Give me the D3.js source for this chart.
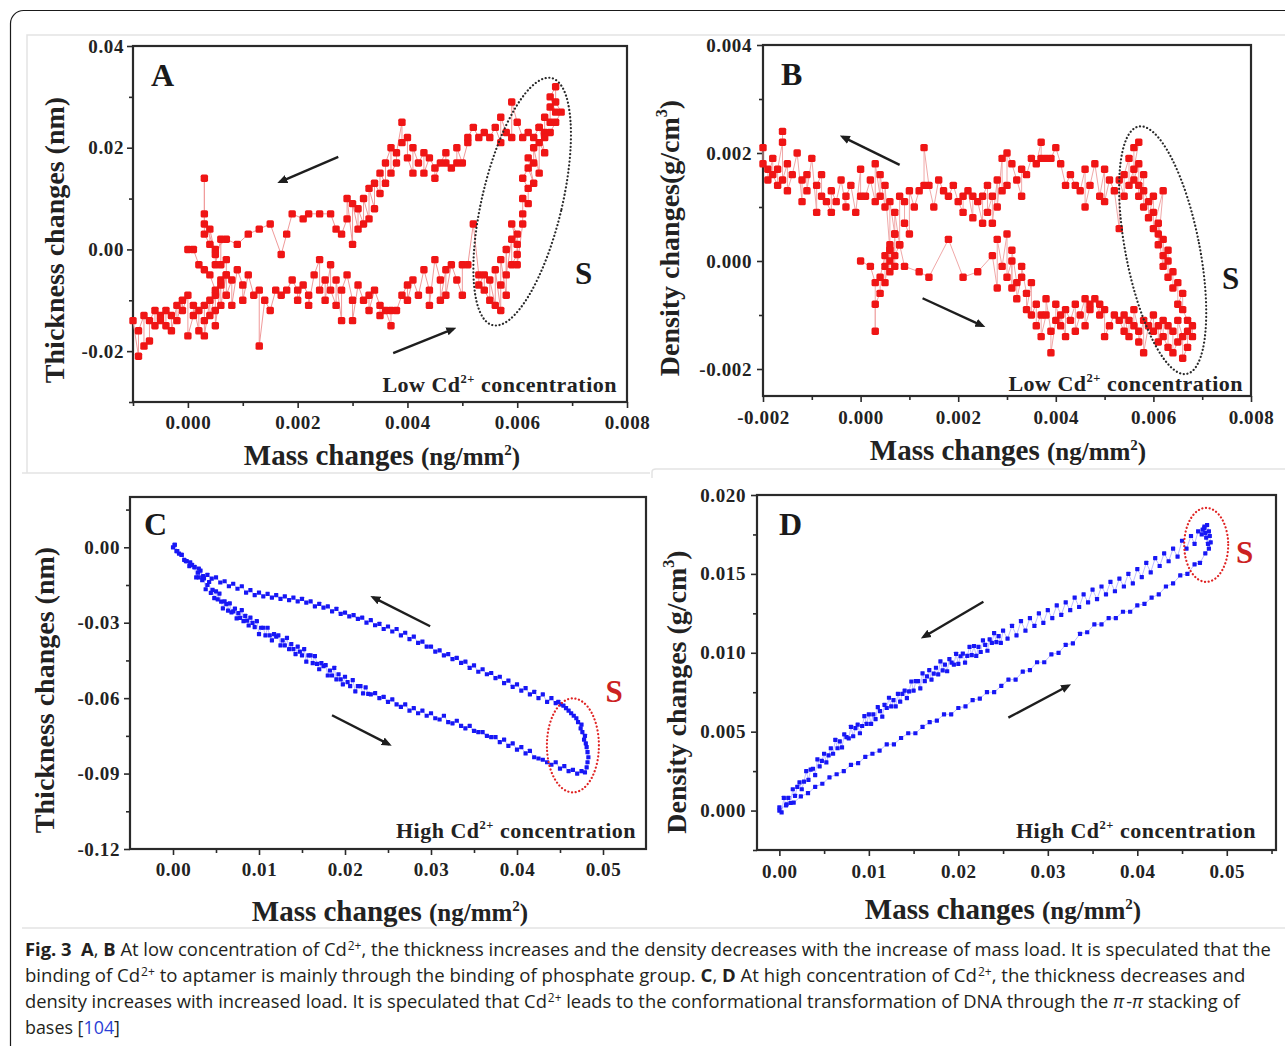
<!DOCTYPE html>
<html>
<head>
<meta charset="utf-8">
<script src="https://cdn.jsdelivr.net/npm/d3@7"></script>
<style>
  body { margin: 0; background: #fff; }
  svg { display: block; }
</style>
</head>
<body>
<script>
// ---------------- data ----------------
// panel A : mass in 1e-4 ng/mm2, thickness in 1e-3 nm
const loadA = [[-10,-14],[-9,-21],[-9,-16],[-8,-13],[-8,-19],[-7,-18],[-7,-14],[-6,-12],[-6,-15],[-5,-14],[-5,-13],[-4,-15],[-4,-12],[-3,-13],[-3,-16],[-2,-11],[-2,-14],[-1,-10],[-1,-12],[0,-9],[0,-17],[1,-13],[1,-11],[2,-16],[2,-12],[3,-11],[3,-14],[3,-17],[4,-10],[4,-13],[5,-9],[5,-12],[5,-15],[6,-7],[6,-11],[7,-5],[7,-9],[8,-6],[8,-11],[9,-4],[10,-7],[10,-10],[11,-5],[12,-9],[13,-8],[13,-19],[14,-10],[15,-12],[16,-8],[17,-9],[18,-8],[19,-6],[20,-8],[20,-10],[21,-7],[22,-9],[22,-11],[23,-5],[24,-2],[24,-8],[25,-6],[25,-10],[26,-3],[26,-8],[27,-11],[27,-6],[28,-14],[28,-8],[29,-5],[30,-10],[30,-14],[31,-7],[32,-10],[33,-9],[33,-12],[34,-8],[35,-11],[35,-13],[36,-12],[37,-15],[37,-12],[38,-12],[39,-9],[40,-7],[40,-10],[41,-6],[42,-9],[43,-4],[44,-8],[44,-11],[45,-2],[46,-6],[46,-10],[47,-4],[47,-9],[48,-3],[49,-6],[50,-9],[50,-3],[51,-3],[52,5],[53,-5],[53,-7],[54,-5],[54,-8],[55,-10],[55,-6],[56,-11],[56,-4],[57,-12],[57,-7],[57,-2],[58,-9],[58,0],[58,-5],[59,2],[59,-3],[60,-1],[60,3],[59,5],[60,1],[60,-3],[61,5],[61,7],[61,10],[62,9],[62,12],[61,14],[62,16],[63,13],[62,18],[63,17],[63,20],[64,15],[64,21],[65,19],[64,24],[65,23],[65,26],[66,25],[66,28],[67,27],[66,30],[67,32],[67,29],[68,27],[67,25],[66,23]];
const unloadA = [[65,22],[64,24],[63,22],[62,23],[61,22],[60,25],[59,29],[59,22],[58,23],[57,26],[57,21],[56,24],[55,22],[54,23],[53,22],[52,24],[51,22],[51,21],[50,17],[49,20],[49,17],[48,16],[47,17],[47,19],[46,17],[45,14],[45,16],[44,18],[43,15],[43,19],[42,17],[41,20],[41,15],[40,18],[40,22],[39,21],[39,25],[38,19],[38,17],[37,15],[37,20],[36,17],[36,13],[35,15],[35,11],[34,13],[34,8],[33,12],[33,6],[32,10],[32,5],[31,8],[31,4],[30,9],[30,1],[29,10],[29,6],[28,3],[27,4],[26,7],[24,7],[22,7],[21,6],[19,7],[18,3],[17,-1],[15,5],[13,4],[11,3],[9,1],[7,2],[5,0],[3,5],[3,14],[3,7],[3,3],[4,1],[4,4],[5,-1],[5,-3],[6,2],[6,-3],[7,-2],[7,-5],[6,-6],[5,-8],[4,-5],[3,-4],[2,-3],[1,0],[0,0]];

// panel B : mass in 1e-4 ng/mm2, density in 1e-4 g/cm3
const loadB = [[0,0],[2,-1],[3,-4],[3,-13],[3,-8],[4,-6],[4,-3],[5,1],[5,-1],[5,-4],[6,2],[6,0],[6,3],[6,-2],[7,-1],[7,5],[7,1],[8,3],[9,-1],[12,-2],[14,-3],[18,4],[21,-3],[24,-2],[27,1],[28,-5],[28,4],[29,-1],[30,5],[30,-3],[31,0],[31,-5],[31,2],[32,-4],[32,-7],[33,-3],[33,-1],[34,-6],[34,-9],[35,-4],[35,-10],[36,-8],[36,-12],[37,-10],[37,-14],[38,-10],[38,-7],[39,-13],[39,-17],[40,-11],[40,-8],[41,-12],[41,-10],[42,-14],[42,-9],[43,-11],[44,-8],[44,-13],[45,-10],[46,-7],[46,-12],[47,-9],[47,-8],[48,-7],[49,-10],[49,-8],[50,-9],[50,-14],[51,-12],[52,-10],[53,-11],[54,-13],[54,-10],[55,-14],[55,-11],[56,-12],[56,-9],[57,-13],[57,-15],[58,-11],[58,-17],[59,-12],[60,-10],[60,-13],[61,-12],[61,-15],[62,-11],[62,-14],[63,-16],[63,-12],[64,-13],[64,-17],[65,-15],[65,-11],[66,-14],[66,-18],[67,-16],[67,-13],[68,-14],[68,-12]];
const unloadB = [[67,-11],[66,-9],[66,-6],[65,-8],[65,-4],[64,-5],[64,-2],[63,-3],[63,0],[63,2],[62,1],[62,4],[62,-1],[61,5],[61,7],[61,3],[62,13],[60,6],[60,9],[60,12],[59,8],[59,11],[58,13],[58,10],[58,16],[57,14],[57,12],[57,18],[56,15],[56,21],[57,22],[56,17],[55,14],[55,19],[54,16],[54,12],[53,15],[53,6],[52,13],[51,15],[50,11],[50,17],[49,12],[48,18],[47,14],[46,10],[46,17],[45,13],[44,14],[43,16],[42,14],[41,18],[40,21],[39,19],[38,19],[37,19],[37,22],[36,18],[35,19],[34,16],[33,17],[33,12],[32,15],[31,18],[30,20],[30,14],[29,13],[29,19],[28,10],[28,15],[27,7],[27,12],[26,9],[26,14],[25,12],[25,7],[24,11],[23,12],[23,8],[22,13],[21,12],[21,9],[20,11],[19,14],[18,12],[17,13],[16,15],[15,10],[14,14],[13,21],[13,14],[12,13],[11,10],[10,13],[10,5],[9,7],[9,11],[8,12],[8,3],[7,9],[7,5],[6,11],[6,2],[5,14],[5,10],[4,16],[4,12],[3,18],[3,11],[2,15],[1,12],[0,12],[0,17],[-1,9],[-2,14],[-3,12],[-3,10],[-4,15],[-5,11],[-6,13],[-6,9],[-7,11],[-8,12],[-8,16],[-9,14],[-9,9],[-10,19],[-11,13],[-11,16],[-12,15],[-12,11],[-13,20],[-14,16],[-15,13],[-15,18],[-16,15],[-16,24],[-16,22],[-17,17],[-17,14],[-18,16],[-18,19],[-19,15],[-19,17],[-20,18],[-20,21]];

// panel C : mass in 1e-3 ng/mm2, thickness in 1e-3 nm
const loadC = [[0,0],[0.2,1],[0.4,-1.5],[0.7,-2.5],[1,-3],[1.3,-5],[1.6,-5.5],[1.9,-7.5],[2.2,-7],[2.5,-7.8],[2.7,-12],[2.9,-10.1],[3,-12],[3.2,-9.3],[3.4,-13.1],[3.6,-12.4],[3.8,-16.7],[4,-15],[4.2,-13.8],[4.4,-18.1],[4.6,-16.9],[4.8,-20.2],[5,-17.5],[5.2,-20.7],[5.4,-18.4],[5.6,-21.6],[5.8,-24.3],[6,-21.5],[6.2,-22.6],[6.4,-25.2],[6.6,-22.3],[6.8,-25.9],[7,-25.5],[7.2,-24.4],[7.4,-28.3],[7.6,-26.2],[7.8,-28.1],[8,-25],[8.2,-29.4],[8.4,-27.3],[8.6,-29.2],[8.8,-31.1],[9,-28],[9.25,-30.1],[9.5,-31.75],[9.75,-29.4],[10,-34.5],[10.25,-32],[10.5,-32],[10.75,-35],[11,-32],[11.25,-35],[11.5,-37],[11.75,-34.5],[12,-35.5],[12.25,-35],[12.5,-39],[12.75,-37],[13,-39],[13.25,-36],[13.5,-40.5],[13.75,-38.5],[14,-40.5],[14.25,-42.5],[14.5,-39.5],[14.75,-41.5],[15,-43],[15.25,-40.5],[15.5,-45.5],[15.75,-43],[16,-43],[16.25,-46.1],[16.5,-43.25],[16.75,-46.4],[17,-48.5],[17.25,-46.1],[17.5,-47.25],[17.75,-46.9],[18,-51],[18.25,-49],[18.5,-51],[18.75,-48],[19,-52.5],[19.25,-50.5],[19.5,-52.5],[19.75,-54.5],[20,-51.5],[20.3,-53.6],[20.6,-55.2],[20.9,-52.8],[21.2,-57.3],[21.5,-55.25],[21.8,-55.2],[22.1,-58.1],[22.4,-55.7],[22.7,-58.3],[23,-58.5],[23.5,-58],[24,-60],[24.5,-59.5],[25,-61.5],[25.5,-60.5],[26,-62.5],[26.5,-63.5],[27,-62.5],[27.5,-65],[28,-64],[28.5,-66],[29,-65],[29.5,-67],[30,-66],[30.5,-68],[31,-68.5],[31.5,-67],[32,-69.5],[32.5,-70],[33,-69],[33.5,-71],[34,-72],[34.5,-71],[35,-73],[35.5,-73.5],[36,-73.5],[36.5,-75],[37,-75.5],[37.5,-75.5],[38,-77.5],[38.5,-76.5],[39,-79],[39.5,-78],[40,-80.5],[40.5,-79.5],[41,-82],[41.5,-81],[42,-83.5],[42.5,-84],[43,-84.5],[43.5,-85.5],[44,-86.5],[44.5,-85.5],[45,-88],[45.5,-87],[46,-89],[46.5,-88.5],[47,-90],[47.5,-89]];
const turnC = [[47.9,-89.5],[48.1,-87.5],[48.2,-85.5],[48.3,-83.5],[48.2,-81.5],[48.1,-79.5],[48,-78],[47.8,-76.5],[47.9,-75],[47.6,-73.5],[47.4,-72],[47.5,-70.5],[47.1,-69.5],[46.9,-68],[46.6,-67],[46.3,-66],[46,-65],[45.7,-64],[45.4,-63],[45.1,-62.5],[44.8,-61.5],[44.5,-62]];
const unloadC = [[44,-60],[43.5,-61.5],[43,-58.5],[42.5,-60],[42,-57.5],[41.5,-58.5],[41,-56],[40.5,-57],[40,-54.5],[39.5,-55.5],[39,-53],[38.5,-54],[38,-51.5],[37.5,-52],[37,-50],[36.5,-50.5],[36,-48.5],[35.5,-49.5],[35,-47],[34.5,-48],[34,-45.5],[33.5,-46],[33,-44],[32.5,-44.5],[32,-42.5],[31.5,-43],[31,-41],[30.5,-41.5],[30,-39.5],[29.5,-39.5],[29,-37.5],[28.5,-38],[28,-35.5],[27.5,-36.5],[27,-34],[26.5,-35],[26,-32.5],[25.5,-33.5],[25,-31.5],[24.5,-32.5],[24,-30.5],[23.5,-31],[23,-29],[22.5,-30],[22,-28],[21.5,-28.5],[21,-27],[20.5,-27.5],[20,-26],[19.5,-26.5],[19,-24.5],[18.5,-25.5],[18,-23.5],[17.5,-24],[17,-22.5],[16.5,-23.5],[16,-21.5],[15.5,-22],[15,-20.5],[14.5,-21.5],[14,-20],[13.5,-21],[13,-19.5],[12.5,-20.5],[12,-19],[11.5,-20],[11,-18.5],[10.5,-19.5],[10,-18],[9.5,-19],[9,-17],[8.5,-18],[8,-15.5],[7.5,-16.5],[7,-14.5],[6.5,-15.5],[6,-13.5],[5.5,-14],[5,-12],[4.5,-12.5],[4,-11],[3.5,-11.5],[3,-8.5],[2.5,-8],[2,-6],[1.5,-5.5],[1,-3],[0.5,-1.5],[0.2,1]];

// panel D : mass in 1e-3 ng/mm2, density in 1e-3 g/cm3
const loadD = [[0,0],[0.8,0.4],[1.6,0.5],[2.4,0.9],[3.2,1.1],[4,1.5],[4.8,1.7],[5.6,2.1],[6.4,2.3],[7.2,2.5],[8,2.9],[8.8,3.0],[9.6,3.4],[10.4,3.6],[11.2,3.8],[12,4.2],[12.8,4.2],[13.6,4.6],[14.4,4.9],[15.2,4.9],[16,5.3],[16.8,5.6],[17.6,5.7],[18.4,6.1],[19.2,6.1],[20,6.5],[20.8,6.6],[21.6,7.0],[22.4,7.1],[23.2,7.5],[24,7.5],[24.8,7.9],[25.6,8.3],[26.4,8.3],[27.2,8.8],[28,8.9],[28.8,9.4],[29.6,9.4],[30.4,9.9],[31.2,10.0],[32,10.5],[32.8,10.6],[33.6,11.2],[34.4,11.3],[35.2,11.8],[36,11.8],[36.8,12.2],[37.6,12.2],[38.4,12.6],[39.2,12.6],[40,13.0],[40.8,13.1],[41.6,13.5],[42.4,13.7],[43.2,14.2],[44,14.4],[44.8,14.9],[45.6,15.0],[46.4,15.6],[47,15.7],[47.6,16.3]];
const turnD = [[48,16.6],[48.2,17],[48.1,17.4],[48,17.7],[47.8,18.1],[47.5,17.9],[47.7,17.3],[47.9,16.9],[47.6,17.6],[47.3,17.8]];
const unloadD = [[47.5,18],[47.2,17.5],[46.8,17.7],[46.4,16.9],[46,17.4],[45.5,16.6],[45,17.1],[44.5,16.1],[44,16.6],[43.5,15.8],[43,16.3],[42.5,15.5],[42,16],[41.5,15.1],[41,15.7],[40.5,14.8],[40,15.3],[39.5,14.4],[39,15],[38.5,14.2],[38,14.7],[37.5,13.9],[37,14.5],[36.5,13.7],[36,14.2],[35.5,13.4],[35,14],[34.5,13.2],[34,13.7],[33.5,12.9],[33,13.5],[32.5,12.7],[32,13.2],[31.5,12.4],[31,13],[30.5,12.2],[30,12.7],[29.5,11.9],[29,12.5],[28.5,11.7],[28,12.2],[27.5,11.4],[27,12],[26.5,11.1],[26,11.7],[25.5,10.9],[25,11.4],[24.75,10.63],[24.5,11.05],[24.25,10.68],[24,11.25],[23.75,10.63],[23.5,10.85],[23.25,10.13],[23,10.5],[22.75,10.78],[22.5,10.05],[22.25,10.38],[22,9.8],[21.75,10.43],[21.5,9.85],[21.25,10.38],[21,9.8],[20.75,9.38],[20.5,9.95],[20.25,9.78],[20,9.3],[19.75,9.93],[19.5,9.25],[19.25,9.38],[19,9.6],[18.75,8.83],[18.5,9.25],[18.25,8.88],[18,9.45],[17.75,8.63],[17.5,9.05],[17.25,8.68],[17,8.3],[16.75,8.9],[16.5,8.5],[16.25,8.2],[16,8.7],[15.75,7.75],[15.5,8.2],[15.25,8.2],[15,7.6],[14.75,8.18],[14.5,7.55],[14.25,7.13],[14,7.6],[13.75,7.4],[13.5,6.9],[13.25,7.4],[13,6.6],[12.75,7.0],[12.5,6.6],[12.25,7.15],[12,6.5],[11.75,6.7],[11.5,5.95],[11.25,6.3],[11,6.55],[10.75,5.8],[10.5,6.1],[10.25,5.5],[10,6.1],[9.75,5.49],[9.5,5.98],[9.25,5.36],[9,4.9],[8.75,5.44],[8.5,5.23],[8.25,4.71],[8,5.3],[7.75,4.58],[7.5,4.65],[7.25,4.83],[7,4.0],[6.75,4.38],[6.5,3.95],[6.25,4.48],[6,3.6],[5.75,3.95],[5.5,3.5],[5.25,3.05],[5,3.6],[4.75,3.15],[4.5,2.8],[4.25,3.25],[4,2.25],[3.75,2.65],[3.5,2.6],[3.25,1.95],[3,2.5],[2.75,1.83],[2.5,1.35],[2.25,1.78],[2,1.5],[1.75,0.93],[1.5,1.35],[1.25,0.48],[1,0.8],[0.75,0.33],[0.5,0.8],[0.25,-0.12],[0,0.2]];

// ticks
const aXTicks = [0, 0.002, 0.004, 0.006, 0.008];
const aXLabels = ['0.000', '0.002', '0.004', '0.006', '0.008'];
const aXMinor = [-0.001, 0.001, 0.003, 0.005, 0.007];
const aYTicks = [0.04, 0.02, 0, -0.02];
const aYLabels = ['0.04', '0.02', '0.00', '-0.02'];
const aYMinor = [0.03, 0.01, -0.01, -0.03];

const bXTicks = [-0.002, 0, 0.002, 0.004, 0.006, 0.008];
const bXLabels = ['-0.002', '0.000', '0.002', '0.004', '0.006', '0.008'];
const bXMinor = [-0.001, 0.001, 0.003, 0.005, 0.007];
const bYTicks = [0.004, 0.002, 0, -0.002];
const bYLabels = ['0.004', '0.002', '0.000', '-0.002'];
const bYMinor = [0.003, 0.001, -0.001];

const cXTicks = [0, 0.01, 0.02, 0.03, 0.04, 0.05];
const cXLabels = ['0.00', '0.01', '0.02', '0.03', '0.04', '0.05'];
const cXMinor = [0.005, 0.015, 0.025, 0.035, 0.045];
const cYTicks = [0, -0.03, -0.06, -0.09, -0.12];
const cYLabels = ['0.00', '-0.03', '-0.06', '-0.09', '-0.12'];
const cYMinor = [0.015, -0.015, -0.045, -0.075, -0.105];

const dXTicks = [0, 0.01, 0.02, 0.03, 0.04, 0.05];
const dXLabels = ['0.00', '0.01', '0.02', '0.03', '0.04', '0.05'];
const dXMinor = [0.005, 0.015, 0.025, 0.035, 0.045, 0.055];
const dYTicks = [0, 0.005, 0.010, 0.015, 0.020];
const dYLabels = ['0.000', '0.005', '0.010', '0.015', '0.020'];
const dYMinor = [-0.0025, 0.0025, 0.0075, 0.0125, 0.0175];

// ---------------- drawing ----------------
const SERIF = '"Liberation Serif", "Times New Roman", serif';
const svg = d3.select('body').append('svg').attr('width', 1285).attr('height', 1046);

const defs = svg.append('defs');
defs.append('marker').attr('id', 'arrow')
  .attr('viewBox', '0 0 10 10').attr('refX', 7).attr('refY', 5)
  .attr('markerWidth', 4.2).attr('markerHeight', 4.2).attr('orient', 'auto')
  .append('path').attr('d', 'M0,0.8 L10,5 L0,9.2 z').attr('fill', '#1e1e1e');

// page frame + faint edges of the scanned panels
svg.append('rect').attr('x', 10.5).attr('y', 10.5).attr('width', 1400).attr('height', 1200)
  .attr('rx', 13).attr('fill', 'none').attr('stroke', '#1a1a1a').attr('stroke-width', 1.2);
const faint = svg.append('g').attr('stroke', '#e3e3e3').attr('stroke-width', 1.5).attr('fill', 'none');
faint.append('path').attr('d', 'M27,473 V35 H1285');
faint.append('path').attr('d', 'M22,473 H650');
faint.append('path').attr('d', 'M652,478 V472 Q652,469 656,469 H1285');
faint.append('path').attr('d', 'M22,928 H1285');

function supText(sel, parts, big, small) {
  // parts: [text, isSup]
  let up = false;
  parts.forEach(([t, sup]) => {
    const ts = sel.append('tspan').text(t);
    if (sup && !up) { ts.attr('dy', -big * 0.42).attr('font-size', small); up = true; }
    else if (!sup && up) { ts.attr('dy', big * 0.42).attr('font-size', big); up = false; }
    else if (sup) ts.attr('font-size', small);
  });
}

function drawPanel(p) {
  const x = d3.scaleLinear().domain(p.xDomain).range([p.left, p.right]);
  const y = d3.scaleLinear().domain(p.yDomain).range([p.bottom, p.top]);
  const g = svg.append('g');

  const styleAxis = s => {
    s.select('.domain').remove();
    s.selectAll('line').attr('stroke', '#2a2a2a').attr('stroke-width', 1.6);
    s.selectAll('text').attr('font-family', SERIF).attr('font-weight', 'bold')
      .attr('font-size', 19).attr('fill', '#222').attr('letter-spacing', 0.6);
  };

  g.append('g').attr('transform', `translate(0,${p.bottom})`)
    .call(d3.axisBottom(x).tickValues(p.xMinor).tickSize(4).tickFormat('')).call(styleAxis);
  g.append('g').attr('transform', `translate(0,${p.bottom})`)
    .call(d3.axisBottom(x).tickValues(p.xTicks).tickSize(6).tickPadding(p.xPad)
      .tickFormat((d, i) => p.xLabels[i])).call(styleAxis);
  g.append('g').attr('transform', `translate(${p.left},0)`)
    .call(d3.axisLeft(y).tickValues(p.yMinor).tickSize(4).tickFormat('')).call(styleAxis);
  g.append('g').attr('transform', `translate(${p.left},0)`)
    .call(d3.axisLeft(y).tickValues(p.yTicks).tickSize(6).tickPadding(p.yPad)
      .tickFormat((d, i) => p.yLabels[i])).call(styleAxis);

  g.append('rect').attr('x', p.left).attr('y', p.top)
    .attr('width', p.right - p.left).attr('height', p.bottom - p.top)
    .attr('fill', 'none').attr('stroke', '#2a2a2a').attr('stroke-width', 2.2);

  // series
  const pts = p.points;
  const px = d => x(d[0] * p.unit[0]);
  const py = d => y(d[1] * p.unit[1]);
  const line = d3.line().x(px).y(py);
  g.append('path').datum(pts).attr('d', line).attr('fill', 'none')
    .attr('stroke', p.lineColor).attr('stroke-width', p.lineWidth).attr('opacity', p.lineOpacity);
  const m = p.marker;
  g.append('g').selectAll('rect').data(pts).join('rect')
    .attr('x', d => px(d) - m / 2).attr('y', d => py(d) - m / 2)
    .attr('width', m).attr('height', m).attr('rx', p.markerRound)
    .attr('fill', p.markerColor);

  // highlighted region
  const e = p.ellipse;
  g.append('ellipse')
    .attr('transform', `translate(${x(e.cx)},${y(e.cy)}) rotate(${e.angle})`)
    .attr('rx', e.rx).attr('ry', e.ry).attr('fill', 'none')
    .attr('stroke', e.color).attr('stroke-width', 2.2)
    .attr('stroke-dasharray', '0.1 3.6').attr('stroke-linecap', 'round');

  // direction arrows
  p.arrows.forEach(a => {
    g.append('line').attr('x1', x(a[0])).attr('y1', y(a[1])).attr('x2', x(a[2])).attr('y2', y(a[3]))
      .attr('stroke', '#1e1e1e').attr('stroke-width', 2.4).attr('marker-end', 'url(#arrow)');
  });

  // labels
  g.append('text').attr('x', p.left + p.letter[0]).attr('y', p.top + p.letter[1])
    .attr('font-family', SERIF).attr('font-weight', 'bold').attr('font-size', 32)
    .attr('fill', '#1a1a1a').text(p.name);
  g.append('text').attr('x', x(p.sPos[0])).attr('y', y(p.sPos[1]))
    .attr('font-family', SERIF).attr('font-weight', 'bold').attr('font-size', 31)
    .attr('text-anchor', 'middle').attr('fill', p.sColor).text('S');

  const note = g.append('text').attr('x', p.right - p.note[0]).attr('y', p.bottom - p.note[1])
    .attr('font-family', SERIF).attr('font-weight', 'bold').attr('font-size', 22)
    .attr('letter-spacing', 0.5).attr('text-anchor', 'end').attr('fill', '#222');
  supText(note, [[p.noteWord + ' Cd', false], ['2+', true], [' concentration', false]], 22, 12.5);

  const xt = g.append('text').attr('x', p.xTitle[0]).attr('y', p.xTitle[1])
    .attr('font-family', SERIF).attr('font-weight', 'bold').attr('font-size', 29)
    .attr('text-anchor', 'middle').attr('fill', '#222');
  xt.append('tspan').text('Mass changes ');
  supText(xt.append('tspan').attr('font-size', 25), [['(ng/mm', false], ['2', true], [')', false]], 25, 15);

  const yt = g.append('text').attr('transform', `translate(${p.yTitle[0]},${p.yTitle[1]}) rotate(-90)`)
    .attr('font-family', SERIF).attr('font-weight', 'bold').attr('font-size', 28)
    .attr('text-anchor', 'middle').attr('fill', '#222');
  supText(yt, p.yTitleParts, 28, 16);
}

drawPanel({
  name: 'A', left: 133, right: 627, top: 46, bottom: 402,
  xDomain: [-0.001, 0.008], yDomain: [-0.03, 0.04], unit: [1e-4, 1e-3],
  xTicks: aXTicks, xLabels: aXLabels, xMinor: aXMinor, xPad: 8,
  yTicks: aYTicks, yLabels: aYLabels, yMinor: aYMinor, yPad: 3,
  points: loadA.concat(unloadA),
  lineColor: '#f09a9a', lineWidth: 1, lineOpacity: 1,
  marker: 7.4, markerRound: 1.6, markerColor: '#ef1515',
  ellipse: {cx: 0.00609, cy: 0.0094, rx: 40, ry: 127, angle: 13.4, color: '#2a2a2a'},
  arrows: [[0.00274, 0.0182, 0.00168, 0.0133], [0.00374, -0.0204, 0.00484, -0.0156]],
  letter: [18, 40], sPos: [0.00721, -0.0068], sColor: '#1a1a1a',
  note: [10, 10], noteWord: 'Low',
  xTitle: [382, 465], yTitle: [64, 240],
  yTitleParts: [['Thickness changes (nm)', false]]
});

drawPanel({
  name: 'B', left: 763, right: 1251, top: 45, bottom: 396,
  xDomain: [-0.002, 0.008], yDomain: [-0.0025, 0.004], unit: [1e-4, 1e-4],
  xTicks: bXTicks, xLabels: bXLabels, xMinor: bXMinor, xPad: 9,
  yTicks: bYTicks, yLabels: bYLabels, yMinor: bYMinor, yPad: 5,
  points: loadB.concat(unloadB),
  lineColor: '#f0a8a8', lineWidth: 1, lineOpacity: 1,
  marker: 7.4, markerRound: 1.6, markerColor: '#ef1515',
  ellipse: {cx: 0.00619, cy: 0.0002, rx: 37, ry: 126, angle: -11, color: '#2a2a2a'},
  arrows: [[0.0008, 0.00178, -0.00037, 0.0023], [0.00127, -0.00069, 0.0025, -0.0012]],
  letter: [18, 40], sPos: [0.00758, -0.00052], sColor: '#1a1a1a',
  note: [8, 5], noteWord: 'Low',
  xTitle: [1008, 460], yTitle: [679, 238],
  yTitleParts: [['Density changes(g/cm', false], ['3', true], [')', false]]
});

drawPanel({
  name: 'C', left: 130, right: 646, top: 497, bottom: 849,
  xDomain: [-0.005, 0.055], yDomain: [-0.12, 0.02], unit: [1e-3, 1e-3],
  xTicks: cXTicks, xLabels: cXLabels, xMinor: cXMinor, xPad: 8,
  yTicks: cYTicks, yLabels: cYLabels, yMinor: cYMinor, yPad: 4,
  points: loadC.concat(turnC, unloadC),
  lineColor: '#4545ff', lineWidth: 1, lineOpacity: 0.35,
  marker: 4.2, markerRound: 0.4, markerColor: '#1717f5',
  ellipse: {cx: 0.0465, cy: -0.0788, rx: 26, ry: 47, angle: 0, color: '#e02424'},
  arrows: [[0.0299, -0.0314, 0.02326, -0.0199], [0.01849, -0.0668, 0.02512, -0.0784]],
  letter: [14, 38], sPos: [0.0513, -0.0615], sColor: '#cc2222',
  note: [10, 11], noteWord: 'High',
  xTitle: [390, 921], yTitle: [54, 690],
  yTitleParts: [['Thickness changes (nm)', false]]
});

drawPanel({
  name: 'D', left: 757, right: 1276, top: 495, bottom: 850,
  xDomain: [-0.0025, 0.0555], yDomain: [-0.0025, 0.02], unit: [1e-3, 1e-3],
  xTicks: dXTicks, xLabels: dXLabels, xMinor: dXMinor, xPad: 9,
  yTicks: dYTicks, yLabels: dYLabels, yMinor: dYMinor, yPad: 5,
  points: loadD.concat(turnD, unloadD),
  lineColor: '#4545ff', lineWidth: 1, lineOpacity: 0.35,
  marker: 4.2, markerRound: 0.4, markerColor: '#1717f5',
  ellipse: {cx: 0.0477, cy: 0.01684, rx: 22, ry: 37, angle: 0, color: '#e02424'},
  arrows: [[0.0228, 0.01323, 0.0161, 0.0110], [0.02559, 0.00589, 0.0323, 0.00791]],
  letter: [22, 40], sPos: [0.052, 0.0157], sColor: '#cc2222',
  note: [20, 12], noteWord: 'High',
  xTitle: [1003, 919], yTitle: [686, 692],
  yTitleParts: [['Density changes (g/cm', false], ['3', true], [')', false]]
});

// ---------------- caption ----------------
const caption = [
  [['Fig. 3', 'b'], ['  ', ''], ['A', 'b'], [', ', ''], ['B', 'b'], [' At low concentration of Cd', ''], ['2+', 'sup'],
   [', the thickness increases and the density decreases with the increase of mass load. It is speculated that the', '']],
  [['binding of Cd', ''], ['2+', 'sup'], [' to aptamer is mainly through the binding of phosphate group. ', ''], ['C', 'b'], [', ', ''],
   ['D', 'b'], [' At high concentration of Cd', ''], ['2+', 'sup'], [', the thickness decreases and', '']],
  [['density increases with increased load. It is speculated that Cd', ''], ['2+', 'sup'],
   [' leads to the conformational transformation of DNA through the ', ''], ['π', 'i'], ['-', 'gap'], ['π', 'i'], [' stacking of', '']],
  [['bases [', ''], ['104', 'link'], [']', '']]
];
const captionWidths = [1246, 1219, 1213, 95];

caption.forEach((parts, i) => {
  const yPos = 956 + i * 26;
  const t = svg.append('text').attr('transform', `translate(25,${yPos})`)
    .attr('font-family', '"Open Sans", "Noto Sans", sans-serif').attr('font-size', 18.5)
    .attr('fill', '#231f20').style('white-space', 'pre');
  let up = false;
  parts.forEach(([s, k]) => {
    const ts = t.append('tspan').text(s);
    if (k === 'sup') { ts.attr('font-size', 12).attr('dy', -6.5).attr('dx', 1); up = true; return; }
    if (up) { ts.attr('dy', 6.5); up = false; }
    if (k === 'b') ts.attr('font-weight', 'bold');
    if (k === 'i') ts.attr('font-style', 'italic');
    if (k === 'gap') ts.attr('dx', 2);
    if (k === 'link') ts.attr('fill', '#2b3fd6');
  });
  // squeeze each line to the width it takes in the figure (condensed face)
  const w = t.node().getComputedTextLength();
  t.attr('transform', `translate(25,${yPos}) scale(${captionWidths[i] / w},1)`);
});
</script>
</body>
</html>
